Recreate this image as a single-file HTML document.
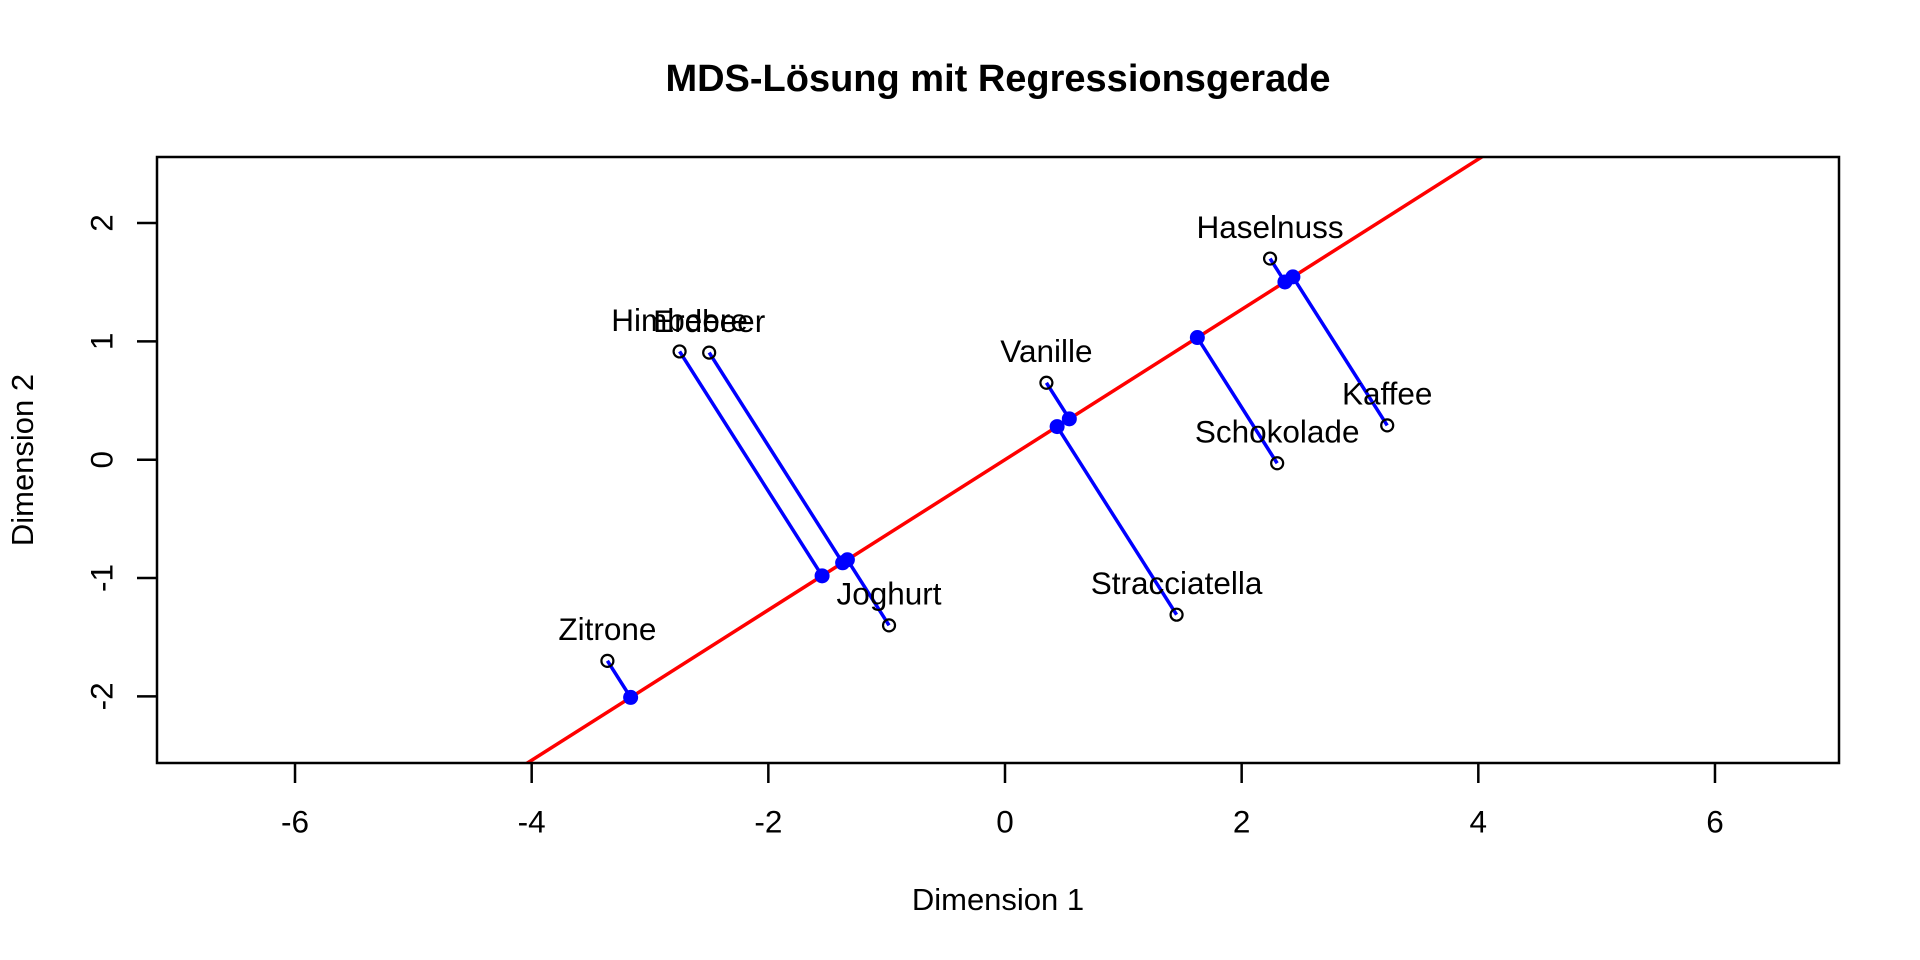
<!DOCTYPE html>
<html><head><meta charset="utf-8"><style>
html,body{margin:0;padding:0;background:#fff;width:1920px;height:960px;overflow:hidden;}
svg{display:block;font-family:"Liberation Sans",Arial,sans-serif;}
</style></head><body>
<svg id="chart" width="1920" height="960" viewBox="0 0 1920 960">
<text x="998" y="81" text-anchor="middle" dominant-baseline="middle" font-size="38" font-weight="bold">MDS-Lösung mit Regressionsgerade</text>
<text x="998" y="902" text-anchor="middle" dominant-baseline="middle" font-size="31">Dimension 1</text>
<text x="0" y="0" transform="translate(25,460) rotate(-90)" text-anchor="middle" dominant-baseline="middle" font-size="31">Dimension 2</text>
<g id="xticks"></g>
<g id="yticks"></g>
<defs><clipPath id="clip"><rect x="157" y="157" width="1682" height="606"/></clipPath></defs>
<g id="plot" clip-path="url(#clip)"></g>
<g id="labels"></g>
<rect x="157" y="157" width="1682" height="606" fill="none" stroke="#000" stroke-width="2.5"/>
</svg>
<script>
const names = ["Zitrone","Himbeere","Erdbeer","Joghurt","Vanille","Stracciatella","Haselnuss","Schokolade","Kaffee"];
const dim1 = [-3.36,-2.75,-2.50,-0.98,0.35,1.45,2.24,2.30,3.23];
const dim2 = [-1.70,0.915,0.905,-1.40,0.65,-1.31,1.70,-0.03,0.29];
const slope = 0.635;
const intercept = 0.0;
const xTicks = [-6,-4,-2,0,2,4,6];
const yTicks = [-2,-1,0,1,2];

const NS="http://www.w3.org/2000/svg";
const unit=118.33, x0=1005, y0=459.7;
const X=v=>x0+v*unit, Y=v=>y0-v*unit;
function mk(tag,attrs,parent){const e=document.createElementNS(NS,tag);for(const k in attrs)e.setAttribute(k,attrs[k]);parent.appendChild(e);return e;}
const gx=document.getElementById('xticks'),gy=document.getElementById('yticks'),gp=document.getElementById('plot'),gl=document.getElementById('labels');
xTicks.forEach(t=>{
  const l=mk('line',{x1:X(t),x2:X(t),y1:763,y2:783,stroke:'#000','stroke-width':2.5},gx);
  
  
  const s=mk('text',{x:X(t),y:824,'text-anchor':'middle','dominant-baseline':'middle','font-size':31.5},gx);
  s.textContent=t;
  
  
});
yTicks.forEach(t=>{
  const l=mk('line',{x1:137,x2:157,y1:Y(t),y2:Y(t),stroke:'#000','stroke-width':2.5},gy);
  
  
  const s=mk('text',{x:0,y:0,transform:`translate(104,${Y(t)}) rotate(-90)`,'text-anchor':'middle','dominant-baseline':'middle','font-size':31.5},gy);
  s.textContent=t;
  
  
});
const rl=mk('line',{x1:X(-8),y1:Y(intercept+slope*-8),x2:X(8),y2:Y(intercept+slope*8),stroke:'#ff0000','stroke-width':3.5},gp);


const m2=1+slope*slope;
names.forEach((n,i)=>{
  const px=dim1[i],py=dim2[i];
  const t=(px+slope*(py-intercept))/m2;
  const fx=t, fy=intercept+slope*t;
  const pl=mk('line',{x1:X(px),y1:Y(py),x2:X(fx),y2:Y(fy),stroke:'#0000ff','stroke-width':3.5},gp);
  
  
  const fp=mk('circle',{cx:X(fx),cy:Y(fy),r:7.5,fill:'#0000ff'},gp);
  
  
});
names.forEach((n,i)=>{
  const c=mk('circle',{cx:X(dim1[i]),cy:Y(dim2[i]),r:6,fill:'none',stroke:'#000','stroke-width':2.2},gp);
  
  
  const s=mk('text',{x:X(dim1[i]),y:Y(dim2[i])-29,'text-anchor':'middle','dominant-baseline':'middle','font-size':31.5},gl);
  s.textContent=n;
  
  
});
</script>
</body></html>
